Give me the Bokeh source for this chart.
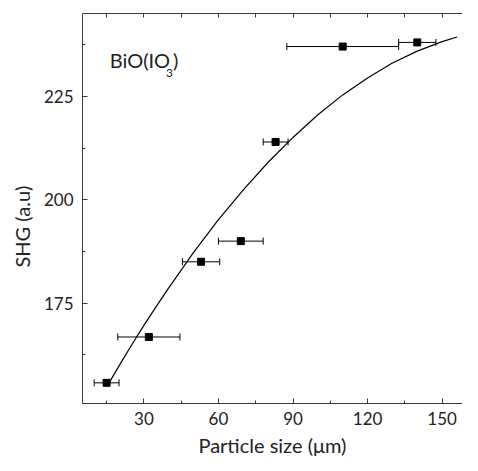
from bokeh.plotting import figure
from bokeh.models import (Range1d, LinearAxis, Whisker, ColumnDataSource, Label,
                          Title, FixedTicker, TeeHead)
from bokeh.embed import file_html
from bokeh.resources import INLINE

# ---- data ----
particle_size = [15, 32, 53, 69, 83, 110, 140]
size_err = [5, 12.5, 7.5, 9, 5, 22.5, 7.5]
shg = [155.7, 166.8, 185.0, 190.0, 214.0, 237.1, 238.1]

fit_x = [16, 20, 25, 30, 35, 40, 50, 60, 70, 80, 90, 100, 110, 120, 130, 140, 150, 156]
fit_y = [155.7, 159.8, 164.8, 169.6, 174.2, 178.7, 187.3, 195.2, 202.4, 209.1,
         215.1, 220.6, 225.4, 229.5, 233.1, 236.0, 238.3, 239.4]

x_major = [30, 60, 90, 120, 150]
x_minor = [15, 45, 75, 105, 135]
x_top = [15, 30, 45, 60, 75, 90, 105, 120, 135, 150]
y_major = [175, 200, 225]
y_minor = [162.5, 187.5, 212.5, 237.5]

FONT = "Lato"
INK = "#222222"
AX = "#3a3a3a"

W, H = 462, 463
BL, BT, BB = 74, 13, 58

p = figure(width=W, height=H, output_backend="svg", toolbar_location=None,
           x_range=Range1d(5.3, 158.2), y_range=Range1d(150.7, 245.1),
           min_border_left=BL, min_border_right=0, min_border_top=BT,
           min_border_bottom=BB)
p.outline_line_color = None
p.grid.visible = False
p.background_fill_color = "white"
p.border_fill_color = "white"


def style(ax, ticker):
    ax.ticker = ticker
    ax.axis_line_color = AX
    ax.major_tick_line_color = AX
    ax.minor_tick_line_color = AX
    ax.major_tick_in = 5
    ax.major_tick_out = 0
    ax.minor_tick_in = 3
    ax.minor_tick_out = 0
    ax.major_label_text_font = FONT
    ax.major_label_text_color = INK
    ax.major_label_text_font_size = "17px"


style(p.xaxis[0], FixedTicker(ticks=x_major, minor_ticks=x_minor))
style(p.yaxis[0], FixedTicker(ticks=y_major, minor_ticks=y_minor))
p.xaxis.major_label_standoff = 8
p.yaxis.major_label_standoff = 9

# top frame line with inward ticks (no labels)
top = LinearAxis()
style(top, FixedTicker(ticks=[], minor_ticks=x_top))
top.minor_tick_in = 4
p.add_layout(top, "above")

ytitle = Title(text="SHG (a.u)", align="left", offset=136, text_font=FONT,
               text_font_size="20px", text_font_style="normal", text_color=INK,
               standoff=14)
p.add_layout(ytitle, "left")

xtitle = Title(text="Particle size (\u03bcm)", align="center", vertical_align="top",
               text_font=FONT, text_font_size="20px", text_font_style="normal",
               text_color=INK, standoff=10)
p.add_layout(xtitle, "below")

src = ColumnDataSource(data=dict(
    x=particle_size, y=shg,
    lo=[a - b for a, b in zip(particle_size, size_err)],
    hi=[a + b for a, b in zip(particle_size, size_err)],
))

wh = Whisker(source=src, base="y", lower="lo", upper="hi", dimension="width",
             line_color="black", line_width=1,
             upper_head=TeeHead(size=7, line_color="black", line_width=1),
             lower_head=TeeHead(size=7, line_color="black", line_width=1))
p.add_layout(wh)

p.line(fit_x, fit_y, line_color="black", line_width=1.2)
p.scatter("x", "y", source=src, marker="square", size=7, color="black")

p.add_layout(Label(x=16.3, y=233.8, text="BiO(IO", text_font=FONT,
                   text_font_size="20px", text_color=INK, text_baseline="alphabetic"))
p.add_layout(Label(x=38.9, y=230.7, text="3", text_font=FONT,
                   text_font_size="12px", text_color=INK, text_baseline="alphabetic"))
p.add_layout(Label(x=41.7, y=233.8, text=")", text_font=FONT,
                   text_font_size="20px", text_color=INK, text_baseline="alphabetic"))

open("out.html", "w").write(file_html(p, INLINE))
